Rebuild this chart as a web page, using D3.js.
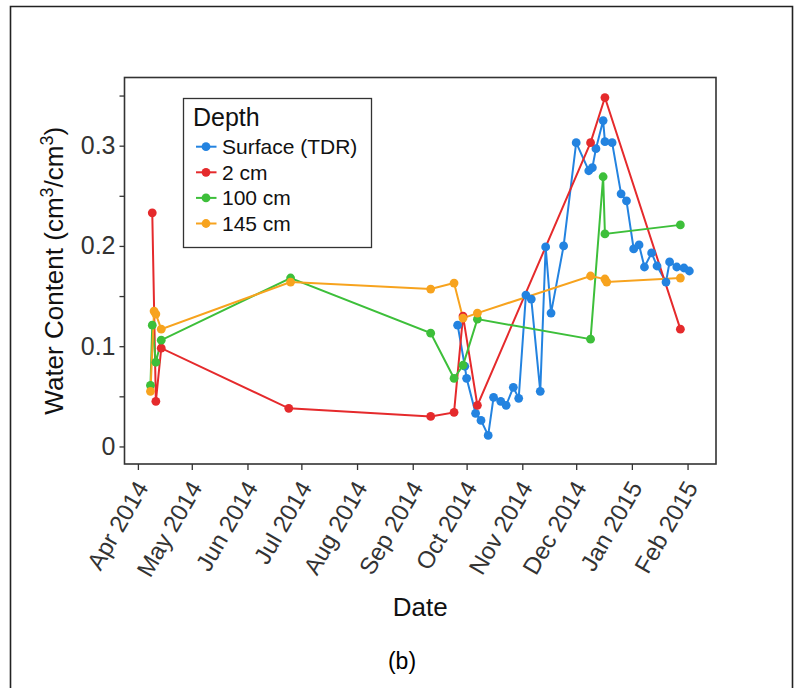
<!DOCTYPE html>
<html>
<head>
<meta charset="utf-8">
<script src="https://cdn.jsdelivr.net/npm/d3@7/dist/d3.min.js"></script>
<style>
  html, body { margin: 0; padding: 0; background: #fff; }
  svg { display: block; }
  text { font-family: "Liberation Sans", Arial, sans-serif; }
</style>
</head>
<body>
<svg id="chart" width="801" height="688"></svg>
<script>
// ---------------- DATA ----------------
const seriesNames = ["Surface (TDR)", "2 cm", "100 cm", "145 cm"];
const seriesColors = ["#2383e0", "#e52a2c", "#3dbf3a", "#f7a31e"];

const surfaceDates = ["2014-09-26","2014-09-30","2014-10-01","2014-10-06","2014-10-09","2014-10-13",
  "2014-10-16","2014-10-20","2014-10-23","2014-10-27","2014-10-30","2014-11-03","2014-11-06",
  "2014-11-11","2014-11-14","2014-11-17","2014-11-24","2014-12-01","2014-12-08","2014-12-10",
  "2014-12-12","2014-12-16","2014-12-17","2014-12-21","2014-12-26","2014-12-29","2015-01-02",
  "2015-01-05","2015-01-08","2015-01-12","2015-01-15","2015-01-20","2015-01-22","2015-01-26",
  "2015-01-30","2015-02-02"];
const surfaceValues = [0.121,0.080,0.068,0.033,0.026,0.011,
  0.049,0.045,0.041,0.059,0.048,0.151,0.147,
  0.055,0.199,0.133,0.200,0.303,0.275,0.278,
  0.297,0.325,0.304,0.303,0.252,0.245,0.197,
  0.201,0.179,0.193,0.180,0.164,0.184,0.179,
  0.178,0.175];

const cm2Dates = ["2014-04-09","2014-04-11","2014-04-14","2014-06-24","2014-09-11","2014-09-24",
  "2014-09-29","2014-10-07","2014-12-09","2014-12-17","2015-01-28"];
const cm2Values = [0.233,0.045,0.098,0.038,0.030,0.034,0.130,0.041,0.303,0.348,0.117];

const cm100Dates = ["2014-04-08","2014-04-09","2014-04-11","2014-04-14","2014-06-25","2014-09-11",
  "2014-09-24","2014-09-29","2014-10-07","2014-12-09","2014-12-16","2014-12-17","2015-01-28"];
const cm100Values = [0.061,0.121,0.084,0.106,0.168,0.113,0.068,0.081,0.127,0.107,0.269,0.212,0.221];

const cm145Dates = ["2014-04-08","2014-04-10","2014-04-11","2014-04-14","2014-06-25","2014-09-11",
  "2014-09-24","2014-09-29","2014-10-07","2014-12-09","2014-12-17","2014-12-18","2015-01-28"];
const cm145Values = [0.055,0.135,0.132,0.117,0.164,0.157,0.163,0.128,0.133,0.170,0.167,0.164,0.168];

const yMajorTicks = [0, 0.1, 0.2, 0.3];
const yMinorTicks = [0.05, 0.15, 0.25, 0.35];
const yTickLabels = ["0", "0.1", "0.2", "0.3"];

const xTitle = "Date";
const legendTitle = "Depth";
const panelLabel = "(b)";

// ---------------- BUILD ----------------
const parse = d3.utcParse("%Y-%m-%d");
const allDates = [surfaceDates, cm2Dates, cm100Dates, cm145Dates];
const allValues = [surfaceValues, cm2Values, cm100Values, cm145Values];
const series = seriesNames.map((name, i) => ({
  name, color: seriesColors[i],
  points: allDates[i].map((d, j) => ({ date: parse(d), value: allValues[i][j] }))
}));

const svg = d3.select("#chart");
const P = { left: 124.5, right: 716, top: 77.5, bottom: 464 };

const x = d3.scaleUtc()
  .domain([d3.utcParse("%Y-%m-%dT%H")("2014-03-24T13"), d3.utcParse("%Y-%m-%dT%H")("2015-02-16T20")])
  .range([P.left, P.right]);
const y = d3.scaleLinear().domain([-0.0175, 0.368]).range([P.bottom, P.top]);

// outer frame
svg.append("path")
  .attr("d", `M10.5,700 L10.5,6.5 L792.5,6.5 L792.5,700`)
  .attr("fill", "none").attr("stroke", "#222").attr("stroke-width", 1.6);

const axisColor = "#333";

// y ticks
const yAxis = d3.axisLeft(y).tickValues(yMajorTicks).tickSize(5)
  .tickFormat((d, i) => yTickLabels[i]);
const gy = svg.append("g").attr("transform", `translate(${P.left},0)`).call(yAxis);
gy.select(".domain").remove();
gy.selectAll(".tick line").attr("stroke", axisColor).attr("stroke-width", 1.3);
gy.selectAll(".tick text").attr("fill", "#333").attr("font-size", 25)
  .attr("font-family", "Liberation Sans, Arial, sans-serif").attr("x", -9);

const yMinor = d3.axisLeft(y).tickValues(yMinorTicks).tickSize(5).tickFormat("");
const gym = svg.append("g").attr("transform", `translate(${P.left},0)`).call(yMinor);
gym.select(".domain").remove();
gym.selectAll(".tick line").attr("stroke", axisColor).attr("stroke-width", 1.3);

// x ticks
const xAxis = d3.axisBottom(x).ticks(d3.utcMonth.every(1)).tickSize(6)
  .tickFormat(d3.utcFormat("%b %Y"));
const gx = svg.append("g").attr("transform", `translate(0,${P.bottom})`).call(xAxis);
gx.select(".domain").remove();
gx.selectAll(".tick line").attr("stroke", axisColor).attr("stroke-width", 1.3);
gx.selectAll(".tick text")
  .attr("fill", "#333").attr("font-size", 24)
  .attr("font-family", "Liberation Sans, Arial, sans-serif")
  .attr("text-anchor", "end")
  .attr("y", 0).attr("dy", 0)
  .attr("transform", "translate(-4,15) rotate(-60) translate(0,17)");

// panel border
svg.append("rect")
  .attr("x", P.left).attr("y", P.top)
  .attr("width", P.right - P.left).attr("height", P.bottom - P.top)
  .attr("fill", "none").attr("stroke", "#333").attr("stroke-width", 1.6);

// lines + points
const line = d3.line().x(d => x(d.date)).y(d => y(d.value));
const g = svg.append("g");
series.forEach(s => {
  g.append("path").datum(s.points)
    .attr("d", line).attr("fill", "none")
    .attr("stroke", s.color).attr("stroke-width", 2);
});
series.forEach(s => {
  g.selectAll(null).data(s.points).enter().append("circle")
    .attr("cx", d => x(d.date)).attr("cy", d => y(d.value))
    .attr("r", 4.4).attr("fill", s.color);
});

// axis titles
svg.append("text").attr("x", (P.left + P.right) / 2).attr("y", 616)
  .attr("text-anchor", "middle").attr("font-size", 26).attr("fill", "#111").text(xTitle);

const yt = svg.append("text")
  .attr("transform", `translate(63,${(P.top + P.bottom) / 2}) rotate(-90)`)
  .attr("text-anchor", "middle").attr("font-size", 26).attr("fill", "#111");
yt.append("tspan").text("Water Content (cm");
yt.append("tspan").attr("dy", -10).attr("font-size", 18).text("3");
yt.append("tspan").attr("dy", 10).text("/cm");
yt.append("tspan").attr("dy", -10).attr("font-size", 18).text("3");
yt.append("tspan").attr("dy", 10).text(")");

// legend
const L = { x: 183.5, y: 98.5, w: 188, h: 149 };
const lg = svg.append("g");
lg.append("rect").attr("x", L.x).attr("y", L.y).attr("width", L.w).attr("height", L.h)
  .attr("fill", "#fff").attr("stroke", "#333").attr("stroke-width", 1.3);
lg.append("text").attr("x", 193).attr("y", 126).attr("font-size", 25).attr("fill", "#111").text(legendTitle);
series.forEach((s, i) => {
  const cy = 146.7 + i * 25.6;
  lg.append("line").attr("x1", 196).attr("x2", 216.5).attr("y1", cy).attr("y2", cy)
    .attr("stroke", s.color).attr("stroke-width", 2);
  lg.append("circle").attr("cx", 206).attr("cy", cy).attr("r", 4.4).attr("fill", s.color);
  lg.append("text").attr("x", 222).attr("y", cy).attr("dy", "0.36em")
    .attr("font-size", 21).attr("fill", "#111").text(s.name);
});

// panel label
svg.append("text").attr("x", 402).attr("y", 669).attr("text-anchor", "middle")
  .attr("font-family", "Open Sans, Lato, sans-serif")
  .attr("font-size", 23).attr("fill", "#000").text(panelLabel);
</script>
</body>
</html>
